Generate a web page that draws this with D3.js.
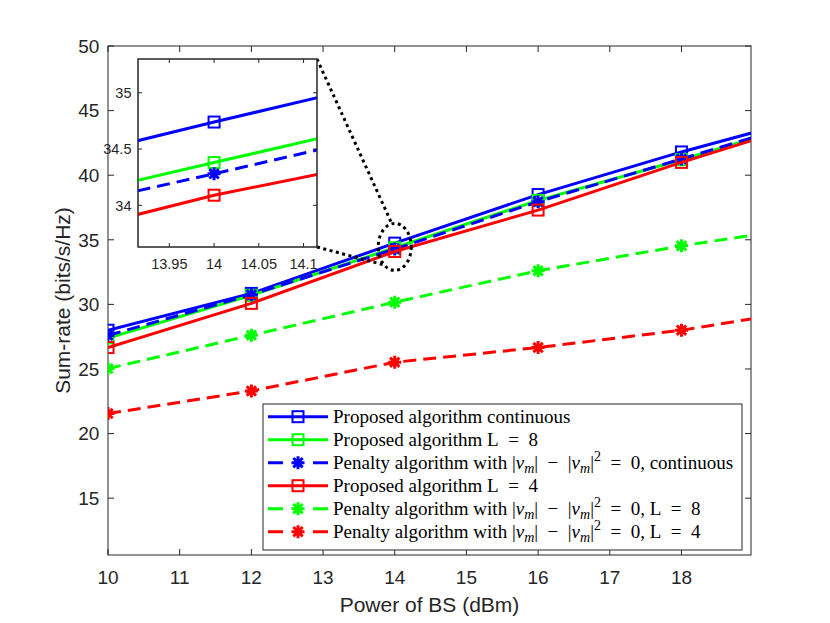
<!DOCTYPE html>
<html>
<head>
<meta charset="utf-8">
<script src="https://cdn.jsdelivr.net/npm/d3@7"></script>
<style>
  body { margin: 0; background: #fff; }
</style>
</head>
<body>
<div id="chart"></div>
<script>

// BS power (dBm). the 20 dBm point only gives the line its slope past the right edge
const powers = [10, 12, 14, 16, 18, 20];

// sum-rate (bits/s/Hz) per curve
const proposedCont = [28.0, 30.85, 34.74, 38.5, 41.8, 44.8];
const proposedL8   = [27.4, 30.7, 34.38, 38.05, 41.2, 44.5];
const penaltyCont  = [27.6, 30.75, 34.28, 37.95, 41.25, 44.6];
const proposedL4   = [26.66, 30.08, 34.09, 37.3, 40.99, 44.45];
const penaltyL8    = [25.03, 27.61, 30.17, 32.6, 34.53, 36.2];
const penaltyL4    = [21.55, 23.3, 25.52, 26.66, 28.0, 29.8];

const xTicks = [10, 11, 12, 13, 14, 15, 16, 17, 18];
const yTicks = [15, 20, 25, 30, 35, 40, 45, 50];
const insetXTicks = [13.95, 14, 14.05, 14.1];
const insetYTicks = [34, 34.5, 35];

// legend labels, split in pieces so the math can be set in italics / sub / sup
// (wider spaces stand in for the TeX spacing round − and =)
const sp = "\u2002";
const penaltyMath = [
    {t: "Penalty algorithm with |"}, {t: "v", i: true}, {t: "m", sub: true, i: true},
    {t: "|" + sp + "−" + sp + "|"}, {t: "v", i: true}, {t: "m", sub: true, i: true}, {t: "|"}, {t: "2", sup: true}
];
const labels = [
    [{t: "Proposed algorithm continuous"}],
    [{t: "Proposed algorithm L" + sp + "=" + sp + "8"}],
    penaltyMath.concat([{t: sp + "=" + sp + "0, continuous"}]),
    [{t: "Proposed algorithm L" + sp + "=" + sp + "4"}],
    penaltyMath.concat([{t: sp + "=" + sp + "0, L" + sp + "=" + sp + "8"}]),
    penaltyMath.concat([{t: sp + "=" + sp + "0, L" + sp + "=" + sp + "4"}])
];

const seriesValues = [proposedCont, proposedL8, penaltyCont, proposedL4, penaltyL8, penaltyL4];
const seriesColors = ["#0000ff", "#00ff00", "#0000ff", "#ff0000", "#00ff00", "#ff0000"];
const seriesDashed = [false, false, true, false, true, true];
const seriesMarker = ["square", "square", "star", "square", "star", "star"];


class SumRateChart {

    constructor(parentElement) {
        this.parentElement = parentElement;
        this.series = seriesValues.map((vals, i) => ({
            values: powers.map((p, j) => ({x: p, y: vals[j]})),
            color: seriesColors[i],
            dashed: seriesDashed[i],
            marker: seriesMarker[i],
            label: labels[i]
        }));
        this.axisColor = "#262626";
        this.initVis();
    }

    initVis() {
        let vis = this;

        vis.svg = d3.select("#" + vis.parentElement).append("svg")
            .attr("width", 830)
            .attr("height", 623);

        vis.x = d3.scaleLinear().domain([10, 18.97]).range([108, 751]);
        vis.y = d3.scaleLinear().domain([10.6, 50]).range([555, 46]);

        vis.svg.append("defs").append("clipPath").attr("id", "mainClip")
            .append("rect")
            .attr("x", 108).attr("y", 46).attr("width", 643).attr("height", 509);

        vis.drawAxes(vis.x, vis.y, xTicks, yTicks, 19, d => d);

        vis.drawSeries(vis.svg.append("g").attr("clip-path", "url(#mainClip)"),
            vis.x, vis.y, d => d.x <= 18);

        // axis titles
        vis.svg.append("text")
            .attr("x", (108 + 751) / 2).attr("y", 612)
            .attr("text-anchor", "middle")
            .attr("font-family", "Liberation Sans, Arial, sans-serif")
            .attr("font-size", 21)
            .attr("fill", vis.axisColor)
            .text("Power of BS (dBm)");

        vis.svg.append("text")
            .attr("transform", "translate(70," + ((46 + 555) / 2) + ") rotate(-90)")
            .attr("text-anchor", "middle")
            .attr("font-family", "Liberation Sans, Arial, sans-serif")
            .attr("font-size", 21)
            .attr("fill", vis.axisColor)
            .text("Sum-rate (bits/s/Hz)");

        vis.drawZoomMark();
        vis.drawInset();
        vis.drawLegend();
    }

    // box axes with inward ticks on all four sides, MATLAB style
    drawAxes(x, y, xt, yt, fontSize, fmt) {
        let vis = this;
        let g = vis.svg.append("g");
        let [x0, x1] = x.range();
        let [y0, y1] = y.range();
        let tick = fontSize > 16 ? 6 : 4;

        g.append("rect")
            .attr("x", x0).attr("y", y1)
            .attr("width", x1 - x0).attr("height", y0 - y1)
            .attr("fill", "#fff")
            .attr("stroke", vis.axisColor)
            .attr("stroke-width", 1);

        xt.forEach(t => {
            let px = x(t);
            g.append("line").attr("x1", px).attr("x2", px).attr("y1", y0).attr("y2", y0 - tick)
                .attr("stroke", vis.axisColor);
            g.append("line").attr("x1", px).attr("x2", px).attr("y1", y1).attr("y2", y1 + tick)
                .attr("stroke", vis.axisColor);
            g.append("text")
                .attr("x", px).attr("y", y0 + fontSize * 1.5)
                .attr("text-anchor", "middle")
                .attr("font-family", "Liberation Sans, Arial, sans-serif")
                .attr("font-size", fontSize)
                .attr("fill", vis.axisColor)
                .text(fmt(t));
        });

        yt.forEach(t => {
            let py = y(t);
            g.append("line").attr("x1", x0).attr("x2", x0 + tick).attr("y1", py).attr("y2", py)
                .attr("stroke", vis.axisColor);
            g.append("line").attr("x1", x1).attr("x2", x1 - tick).attr("y1", py).attr("y2", py)
                .attr("stroke", vis.axisColor);
            g.append("text")
                .attr("x", x0 - fontSize * 0.45).attr("y", py + fontSize * 0.36)
                .attr("text-anchor", "end")
                .attr("font-family", "Liberation Sans, Arial, sans-serif")
                .attr("font-size", fontSize)
                .attr("fill", vis.axisColor)
                .text(fmt(t));
        });
        return g;
    }

    drawMarker(g, type, cx, cy, color, size) {
        if (type === "square") {
            g.append("rect")
                .attr("x", cx - size / 2).attr("y", cy - size / 2)
                .attr("width", size).attr("height", size)
                .attr("fill", "none")
                .attr("stroke", color)
                .attr("stroke-width", 2);
        } else {
            let r = size / 2 + 1, d = r * 0.72;
            g.append("path")
                .attr("d", `M${cx - r},${cy}L${cx + r},${cy}M${cx},${cy - r}L${cx},${cy + r}` +
                           `M${cx - d},${cy - d}L${cx + d},${cy + d}M${cx - d},${cy + d}L${cx + d},${cy - d}`)
                .attr("stroke", color)
                .attr("stroke-width", 3);
        }
    }

    drawSeries(g, x, y, showMarker) {
        let vis = this;
        let line = d3.line().x(d => x(d.x)).y(d => y(d.y));

        vis.series.forEach(s => {
            g.append("path")
                .datum(s.values)
                .attr("d", line)
                .attr("fill", "none")
                .attr("stroke", s.color)
                .attr("stroke-width", 3)
                .attr("stroke-dasharray", s.dashed ? "13,7" : null);

            s.values.filter(showMarker).forEach(d => {
                vis.drawMarker(g, s.marker, x(d.x), y(d.y), s.color, 11);
            });
        });
    }

    // dotted ellipse round the 14 dBm cluster and the two leader lines to the inset
    drawZoomMark() {
        let vis = this;
        let cx = vis.x(14), cy = vis.y(34.45);
        let rx = 16.5, ry = 23.5;
        let dotted = {stroke: "#000", "stroke-width": 3, "stroke-dasharray": "3,3.5", fill: "none"};

        let ell = vis.svg.append("ellipse")
            .attr("cx", cx).attr("cy", cy).attr("rx", rx).attr("ry", ry);
        Object.entries(dotted).forEach(([k, v]) => ell.attr(k, v));

        let onEllipse = deg => {
            let a = deg * Math.PI / 180;
            return [cx + rx * Math.cos(a), cy + ry * Math.sin(a)];
        };
        let top = onEllipse(-100), low = onEllipse(130);

        [[[317, 59], top], [[317, 247], low]].forEach(([a, b]) => {
            let l = vis.svg.append("line")
                .attr("x1", a[0]).attr("y1", a[1]).attr("x2", b[0]).attr("y2", b[1]);
            Object.entries(dotted).forEach(([k, v]) => l.attr(k, v));
        });
    }

    drawInset() {
        let vis = this;
        let ix = d3.scaleLinear().domain([13.915, 14.115]).range([138, 317]);
        let iy = d3.scaleLinear().domain([33.63, 35.3]).range([247, 59]);

        vis.drawAxes(ix, iy, insetXTicks, insetYTicks, 14.5, d => d3.format("")(d));

        vis.svg.select("defs").append("clipPath").attr("id", "insetClip")
            .append("rect")
            .attr("x", 138).attr("y", 59).attr("width", 179).attr("height", 188);

        let g = vis.svg.append("g").attr("clip-path", "url(#insetClip)");
        vis.drawSeries(g, ix, iy, d => d.x === 14);

        // redraw the frame on top of the lines
        vis.svg.append("rect")
            .attr("x", 138).attr("y", 59).attr("width", 179).attr("height", 188)
            .attr("fill", "none")
            .attr("stroke", vis.axisColor);
    }

    drawLegend() {
        let vis = this;
        let g = vis.svg.append("g");
        let left = 263, top = 404, w = 479, h = 146;

        g.append("rect")
            .attr("x", left).attr("y", top).attr("width", w).attr("height", h)
            .attr("fill", "#fff")
            .attr("stroke", vis.axisColor)
            .attr("stroke-width", 1);

        vis.series.forEach((s, i) => {
            let cy = 416.7 + i * 23;
            g.append("line")
                .attr("x1", 268).attr("x2", 328).attr("y1", cy).attr("y2", cy)
                .attr("stroke", s.color)
                .attr("stroke-width", 3)
                .attr("stroke-dasharray", s.dashed ? "15,30" : null);
            vis.drawMarker(g, s.marker, 298, cy, s.color, 11);

            let txt = g.append("text")
                .attr("x", 333).attr("y", cy + 6)
                .attr("font-family", "Liberation Serif, Times New Roman, serif")
                .attr("font-size", 19)
                .attr("fill", "#000");

            let shift = 0;
            s.label.forEach(p => {
                let target = p.sub ? 4 : p.sup ? -8 : 0;
                txt.append("tspan")
                    .attr("dy", target - shift)
                    .attr("font-size", (p.sub || p.sup) ? 14 : 19)
                    .attr("font-style", p.i ? "italic" : null)
                    .text(p.t);
                shift = target;
            });
        });
    }
}

new SumRateChart("chart");
</script>
</body>
</html>
